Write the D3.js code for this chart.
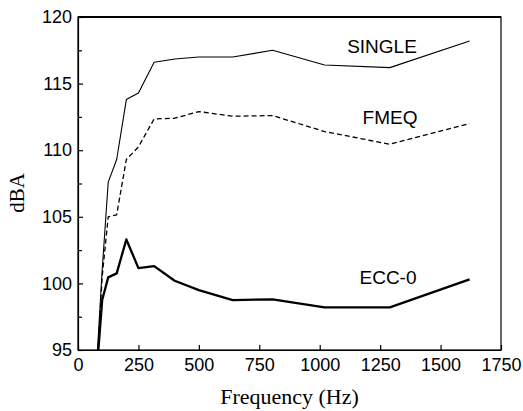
<!DOCTYPE html>
<html lang="en">
<head>
  <meta charset="UTF-8">
  <title>dBA vs Frequency</title>
  <script src="https://d3js.org/d3.v7.min.js"></script>
</head>
<body style="margin: 0; padding: 0; overflow: hidden; background: #fff;">
  <svg id="chart"></svg>

  <script>
    // data
    const freqs  = [80, 100, 125, 160, 200, 250, 315, 400, 500, 640, 805, 1020, 1290, 1620];
    const single = [94.8, 101.0, 107.6, 109.3, 113.8, 114.3, 116.6, 116.85, 117.0, 117.0, 117.5, 116.4, 116.2, 118.2];
    const fmeq   = [94.0, 100.5, 105.0, 105.15, 109.3, 110.25, 112.35, 112.4, 112.9, 112.55, 112.6, 111.4, 110.45, 112.0];
    const ecc0   = [94.0, 98.75, 100.45, 100.75, 103.3, 101.15, 101.3, 100.2, 99.5, 98.75, 98.8, 98.2, 98.2, 100.3];
    const xTicks = [0, 250, 500, 750, 1000, 1250, 1500, 1750];
    const yTicks = [95, 100, 105, 110, 115, 120];
    const yMinor = [97.5, 102.5, 107.5, 112.5, 117.5];

    const series = [
      { name: "SINGLE", values: single, width: 1.1, dash: null, lx: 382, ly: 53 },
      { name: "FMEQ",   values: fmeq,   width: 1.3, dash: "5,3", lx: 390, ly: 124 },
      { name: "ECC-0",  values: ecc0,   width: 2.3, dash: null, lx: 388, ly: 284 }
    ];

    const W = 523, H = 411;
    const m = { left: 78, right: 501, top: 17, bottom: 350 };

    const svg = d3.select("#chart").attr("width", W).attr("height", H);

    const x = d3.scaleLinear().domain([0, 1750]).range([m.left, m.right]);
    const y = d3.scaleLinear().domain([95, 120]).range([m.bottom, m.top]);

    svg.append("clipPath").attr("id", "plot-clip")
      .append("rect")
      .attr("x", m.left).attr("y", m.top)
      .attr("width", m.right - m.left).attr("height", m.bottom - m.top);

    // frame
    svg.append("rect")
      .attr("x", m.left).attr("y", m.top)
      .attr("width", m.right - m.left).attr("height", m.bottom - m.top)
      .attr("fill", "none").attr("stroke", "#000").attr("stroke-width", 1.2);
    svg.append("line")
      .attr("x1", m.left).attr("x2", m.right).attr("y1", m.top).attr("y2", m.top)
      .attr("stroke", "#000").attr("stroke-width", 2);

    // bottom axis, ticks pointing inward
    svg.append("g")
      .attr("transform", `translate(0,${m.bottom})`)
      .call(d3.axisBottom(x).tickValues(xTicks).tickFormat(d3.format("d"))
        .tickSizeInner(-5).tickSizeOuter(0).tickPadding(8));

    svg.append("g")
      .attr("transform", `translate(${m.left},0)`)
      .call(d3.axisLeft(y).tickValues(yTicks).tickFormat(d3.format("d"))
        .tickSizeInner(-5).tickSizeOuter(0).tickPadding(6));

    svg.append("g")
      .attr("transform", `translate(${m.left},0)`)
      .call(d3.axisLeft(y).tickValues(yMinor).tickSizeInner(-4).tickSizeOuter(0).tickFormat(""))
      .select(".domain").remove();

    svg.selectAll(".domain").attr("stroke", "#000").attr("stroke-width", 1.2);
    svg.selectAll(".tick line").attr("stroke", "#000").attr("stroke-width", 1.2);
    svg.selectAll(".tick text")
      .attr("fill", "#000")
      .style("font-family", "'Liberation Sans', Arial, sans-serif")
      .style("font-size", "18px");

    // axis titles
    svg.append("text")
      .attr("x", (m.left + m.right) / 2).attr("y", 404)
      .attr("text-anchor", "middle")
      .style("font-family", "'Liberation Serif', 'Times New Roman', serif")
      .style("font-size", "22px")
      .text("Frequency (Hz)");

    svg.append("text")
      .attr("transform", "translate(24,193) rotate(-90)")
      .attr("text-anchor", "middle")
      .style("font-family", "'Liberation Serif', 'Times New Roman', serif")
      .style("font-size", "21px")
      .text("dBA");

    // curves
    const line = d3.line()
      .x((d, i) => x(freqs[i]))
      .y(d => y(d));

    const plot = svg.append("g").attr("clip-path", "url(#plot-clip)");

    plot.selectAll(".curve")
      .data(series)
      .enter()
      .append("path")
      .attr("class", "curve")
      .attr("fill", "none")
      .attr("stroke", "#000")
      .attr("stroke-width", d => d.width)
      .attr("stroke-dasharray", d => d.dash)
      .attr("stroke-linejoin", "round")
      .attr("d", d => line(d.values));

    // curve labels
    svg.selectAll(".curve-label")
      .data(series)
      .enter()
      .append("text")
      .attr("class", "curve-label")
      .attr("x", d => d.lx).attr("y", d => d.ly)
      .attr("text-anchor", "middle")
      .style("font-family", "'Liberation Sans', Arial, sans-serif")
      .style("font-size", "19px")
      .text(d => d.name);
  </script>
</body>
</html>
